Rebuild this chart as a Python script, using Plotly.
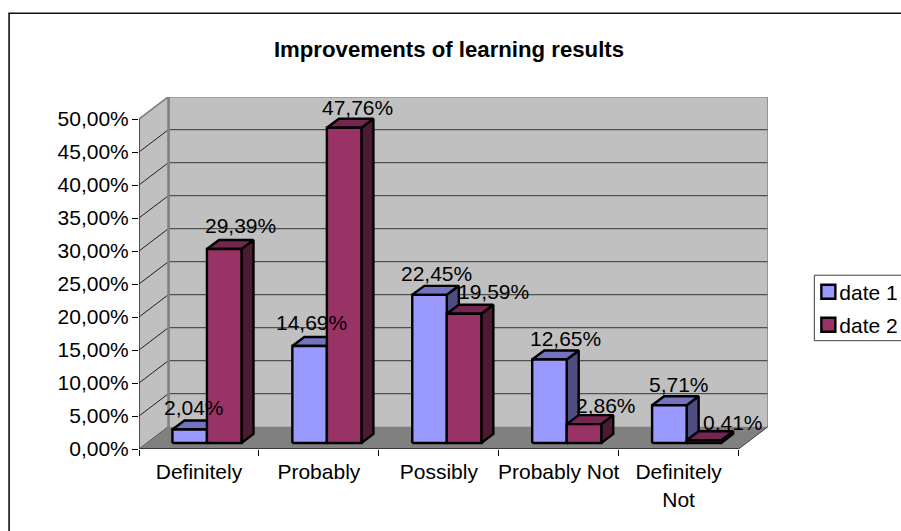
import plotly.graph_objects as go

# ---------- data ----------
categories = ["Definitely", "Probably", "Possibly", "Probably Not", "Definitely<br>Not"]
date_1 = [0.0204, 0.1469, 0.2245, 0.1265, 0.0571]
date_2 = [0.2939, 0.4776, 0.1959, 0.0286, 0.0041]
series_names = ["date 1", "date 2"]
y_ticks = [0.0, 0.05, 0.10, 0.15, 0.20, 0.25, 0.30, 0.35, 0.40, 0.45, 0.50]

# ---------- geometry (pixels of the picture) ----------
W, H = 901, 531
PX0, PX1, PY0, PY1 = 139.3, 767.7, 449.3, 97.3
CAT_PX = 119.8          # one category along the front edge
PCT_PX = 660.0          # 100 % in pixels
WALL_DX, WALL_DY = 29.5 / CAT_PX, 22.4 / PCT_PX
BAR_DX, BAR_DY = 12.0 / CAT_PX, 9.0 / PCT_PX
FRONT_DX, FRONT_DY = 8.0 / CAT_PX, 6.0 / PCT_PX
BAR_W = 34.5 / CAT_PX
N = len(categories)
XMAX = (PX1 - PX0) / CAT_PX
YMAX = (PY0 - PY1) / PCT_PX
FONT = "Liberation Sans"
FS = 21


def paper_x(px):
    return (px - PX0) / (PX1 - PX0)


def paper_y(py):
    return (PY0 - py) / (PY0 - PY1)


# ---------- styles ----------
FRONT = ["#9999FF", "#993366"]
TOP = ["#7373BF", "#732650"]
SIDE = ["#4D4D80", "#4D1A33"]
WALL, FLOOR, EDGE, GRID = "#C0C0C0", "#808080", "#808080", "#505050"
# offset of each value label from its bar's front-top centre, in pixels
LABEL_SHIFT = [
    [(4, 22), (1.7, 23.3), (6.6, 21.7), (16, 21), (10, 21)],
    [(16.7, 24), (13.5, 20.6), (29, 22.3), (21.7, 19), (29, 18)],
]

fig = go.Figure()


def poly(xs, ys, fill, line=None, width=0):
    fig.add_trace(go.Scatter(
        x=xs + xs[:1], y=ys + ys[:1], mode="lines", fill="toself", fillcolor=fill,
        line=dict(color=line or fill, width=width), hoverinfo="skip",
        showlegend=False, cliponaxis=False))


def seg(xs, ys, color, width):
    fig.add_trace(go.Scatter(
        x=xs, y=ys, mode="lines", line=dict(color=color, width=width),
        hoverinfo="skip", showlegend=False, cliponaxis=False))


top = y_ticks[-1]
# side wall, back wall, floor
poly([0, WALL_DX, WALL_DX, 0], [0, WALL_DY, top + WALL_DY, top], WALL)
poly([WALL_DX, N + WALL_DX, N + WALL_DX, WALL_DX],
     [WALL_DY, WALL_DY, top + WALL_DY, top + WALL_DY], WALL)
# grid on back wall and on side wall
for t in y_ticks[1:-1]:
    seg([WALL_DX, N + WALL_DX], [t + WALL_DY, t + WALL_DY], GRID, 1.3)
for t in y_ticks[:-1]:
    seg([0, WALL_DX], [t, t + WALL_DY], "#202020", 1)
poly([0, N, N + WALL_DX, WALL_DX], [0, 0, WALL_DY, WALL_DY], FLOOR)
# wall edges
seg([WALL_DX, WALL_DX], [WALL_DY, top + WALL_DY], EDGE, 2.6)
seg([0, WALL_DX, N + WALL_DX, N + WALL_DX], [top, top + WALL_DY, top + WALL_DY, WALL_DY], EDGE, 1.6)
seg([N, N + WALL_DX], [0, WALL_DY], "#404040", 1)

# bars
gap = (1 - 2 * BAR_W) / 2
for i in range(N):
    for s, vals in enumerate([date_1, date_2]):
        x0 = i + gap + s * BAR_W + FRONT_DX
        x1 = x0 + BAR_W
        y0 = FRONT_DY
        y1 = FRONT_DY + vals[i]
        poly([x1, x1 + BAR_DX, x1 + BAR_DX, x1], [y0, y0 + BAR_DY, y1 + BAR_DY, y1], SIDE[s], "black", 2.4)
        poly([x0, x1, x1 + BAR_DX, x0 + BAR_DX], [y1, y1, y1 + BAR_DY, y1 + BAR_DY], TOP[s], "black", 2.4)
        poly([x0, x1, x1, x0], [y0, y0, y1, y1], FRONT[s], "black", 2.4)
        fig.add_annotation(
            x=(x0 + x1) / 2, y=y1, xref="x", yref="y",
            text=f"{vals[i] * 100:.2f}%".replace(".", ","), showarrow=False,
            xshift=LABEL_SHIFT[s][i][0], yshift=LABEL_SHIFT[s][i][1],
            xanchor="center", yanchor="middle", font=dict(family=FONT, size=FS, color="black"))

# legend entries (swatches are placed as shapes so they sit at their exact spot)
for s, name in enumerate(series_names):
    fig.add_trace(go.Scatter(
        x=[None], y=[None], mode="markers", name=name, legendgroup=name,
        marker=dict(symbol="square", size=12, color="rgba(0,0,0,0)"), hoverinfo="skip"))

shapes = [
    dict(type="rect", xref="paper", yref="paper", x0=paper_x(9.5), x1=paper_x(W + 20),
         y0=paper_y(H + 20), y1=paper_y(13.5),
         line=dict(color="#101010", width=1.6), layer="below"),
    dict(type="rect", xref="paper", yref="paper", x0=paper_x(814), x1=paper_x(W + 20),
         y0=paper_y(341), y1=paper_y(275.5),
         line=dict(color="#404040", width=1)),
]
for s, top_px in enumerate([285, 318]):
    shapes.append(dict(type="rect", xref="paper", yref="paper", x0=paper_x(821), x1=paper_x(835),
                       y0=paper_y(top_px + 14), y1=paper_y(top_px),
                       fillcolor=FRONT[s], line=dict(color="black", width=2.4)))

fig.update_layout(
    width=W, height=H,
    paper_bgcolor="white", plot_bgcolor="rgba(0,0,0,0)",
    separators=",.",
    font=dict(family=FONT, size=FS, color="black"),
    margin=dict(l=PX0, r=W - PX1, t=PY1, b=H - PY0, autoexpand=False),
    title=dict(text="<b>Improvements of learning results</b>", x=449 / W, xref="container", xanchor="center",
               y=1 - 49 / H, yref="container", yanchor="middle", font=dict(family=FONT, size=22.2, color="black")),
    shapes=shapes,
    showlegend=True,
    legend=dict(x=paper_x(799), y=paper_y(271.5), xanchor="left", yanchor="top", xref="paper", yref="paper",
                bgcolor="rgba(0,0,0,0)", borderwidth=0, tracegroupgap=3, font=dict(family=FONT, size=FS)),
    xaxis=dict(range=[0, XMAX], showgrid=False, zeroline=False, showline=False,
               tickmode="array", tickvals=[i + 0.5 for i in range(N)], ticktext=categories,
               ticks="outside", ticklen=0, tickcolor="black", ticklabelstandoff=4,
               minor=dict(tickmode="array", tickvals=list(range(N + 1)), ticks="outside",
                          ticklen=6, tickcolor="black", tickwidth=1)),
    yaxis=dict(range=[0, YMAX], showgrid=False, zeroline=False, showline=False,
               tickmode="array", tickvals=y_ticks, tickformat=".2%",
               ticks="outside", ticklen=6, tickcolor="black", tickwidth=1, ticklabelstandoff=-1),
)
# axis lines on the front plane
seg([0, 0], [0, top], "#202020", 1.4)
seg([0, N], [0, 0], "#202020", 1.4)

fig.write_html("out.html", config=dict(displayModeBar=False),
               post_script="document.body.style.margin='0';document.body.style.overflow='hidden';")
